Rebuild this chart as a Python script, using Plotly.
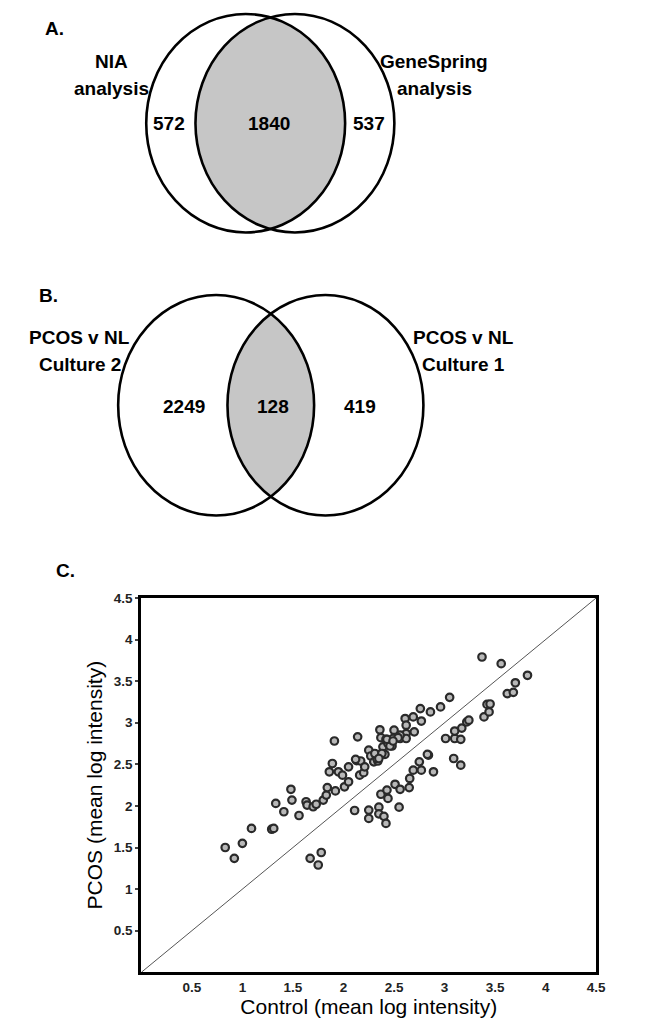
import numpy as np
import plotly.graph_objects as go

W, H = 653, 1019

# ---- Venn counts ----
venn_a_labels = [["NIA", "analysis"], ["GeneSpring", "analysis"]]
venn_a_counts = [572, 1840, 537]
venn_b_labels = [["PCOS v NL", "Culture 2"], ["PCOS v NL", "Culture 1"]]
venn_b_counts = [2249, 128, 419]

# ---- scatter: mean log intensity per gene ----
control_up = [0.83, 0.92, 1.00, 1.09, 1.29, 1.31, 1.33, 1.41, 1.48, 1.49, 1.56, 1.63,
              1.64, 1.70, 1.73, 1.80, 1.83, 1.84, 1.92, 2.01, 2.05, 1.91, 2.14, 1.89,
              1.86, 1.95, 1.99, 2.05, 2.13, 2.17, 2.16, 2.20, 2.21, 2.25, 2.27, 2.30,
              2.34, 2.36, 2.36, 2.37, 2.39, 2.41, 2.42, 2.44, 2.48, 2.50, 2.49, 2.56,
              2.62, 2.62, 2.61, 2.62, 2.69, 2.70, 2.76, 2.77, 2.86, 2.96, 3.05, 3.37,
              3.56, 2.56, 2.33, 2.12, 2.31, 2.38, 2.46, 2.35, 2.43, 2.54, 2.49]
pcos_up = [1.50, 1.37, 1.55, 1.73, 1.72, 1.73, 2.03, 1.93, 2.20, 2.07, 1.885, 2.05,
           2.01, 1.99, 2.02, 2.07, 2.13, 2.22, 2.18, 2.23, 2.29, 2.78, 2.83, 2.51,
           2.41, 2.41, 2.37, 2.47, 2.545, 2.54, 2.37, 2.40, 2.47, 2.67, 2.60, 2.53,
           2.54, 2.62, 2.915, 2.82, 2.71, 2.62, 2.80, 2.75, 2.72, 2.91, 2.81, 2.81,
           2.87, 2.81, 3.05, 2.97, 3.07, 2.89, 3.17, 3.02, 3.13, 3.19, 3.305, 3.79,
           3.71, 2.85, 2.57, 2.56, 2.63, 2.63, 2.72, 2.57, 2.80, 2.82, 2.78]

control_down = [1.67, 1.75, 1.78, 2.11, 2.25, 2.25, 2.35, 2.35, 2.40, 2.42, 2.37, 2.43,
                2.44, 2.55, 2.51, 2.56, 2.65, 2.655, 2.69, 2.77, 2.75, 2.84, 2.89, 2.83,
                3.01, 3.10, 3.10, 3.16, 3.17, 3.22, 3.24, 3.39, 3.44, 3.42, 3.45, 3.62,
                3.68, 3.70, 3.82, 3.09, 3.16]
pcos_down = [1.37, 1.29, 1.44, 1.945, 1.95, 1.85, 1.985, 1.905, 1.875, 1.79, 2.14, 2.19,
             2.09, 1.985, 2.26, 2.20, 2.22, 2.33, 2.43, 2.43, 2.53, 2.61, 2.41, 2.62,
             2.81, 2.81, 2.90, 2.80, 2.935, 3.01, 3.03, 3.07, 3.13, 3.22, 3.225, 3.35,
             3.365, 3.48, 3.57, 2.57, 2.49]

axis_ticks = [0.5, 1, 1.5, 2, 2.5, 3, 3.5, 4, 4.5]
axis_range = [0, 4.5]


def px(x):
    return x / W


def py(y):
    return 1 - y / H


def venn(fig, cx1, cx2, cy, rx, ry):
    # two outlined ellipses with the shared lens filled grey
    xm = (cx1 + cx2) / 2
    yi = ry * np.sqrt(1 - ((xm - cx1) / rx) ** 2)
    ys = np.linspace(-yi, yi, 80)
    right_arc = [(cx1 + rx * np.sqrt(max(0.0, 1 - (v / ry) ** 2)), cy + v) for v in ys]
    left_arc = [(cx2 - rx * np.sqrt(max(0.0, 1 - (v / ry) ** 2)), cy + v) for v in ys[::-1]]
    pts = right_arc + left_arc
    path = "M " + " L ".join(f"{px(a):.5f},{py(b):.5f}" for a, b in pts) + " Z"
    fig.add_shape(type="path", path=path, xref="paper", yref="paper",
                  fillcolor="#c6c6c6", line=dict(width=0), layer="below")
    for cx in (cx1, cx2):
        fig.add_shape(type="circle", xref="paper", yref="paper",
                      x0=px(cx - rx), x1=px(cx + rx), y0=py(cy + ry), y1=py(cy - ry),
                      line=dict(color="black", width=2.6), fillcolor="rgba(0,0,0,0)")


fig = go.Figure()

# diagonal identity line
fig.add_trace(go.Scatter(x=axis_range, y=axis_range, mode="lines",
                         line=dict(color="#555555", width=1), hoverinfo="skip"))
marker = dict(size=7.5, color="#b8b8b8", line=dict(color="#2a2a2a", width=2.2))
fig.add_trace(go.Scatter(x=control_up, y=pcos_up, mode="markers", marker=marker))
fig.add_trace(go.Scatter(x=control_down, y=pcos_down, mode="markers", marker=marker))

FAM = "Liberation Sans, Arial"
bold = dict(family=FAM, size=19, color="black", weight="bold")
tick_font = dict(family=FAM, size=13.5, color="#222222", weight="bold")
title_font = dict(family=FAM, size=21, color="black")

fig.update_layout(
    width=W, height=H, margin=dict(l=0, r=0, t=0, b=0),
    paper_bgcolor="white", plot_bgcolor="white", showlegend=False,
    xaxis=dict(domain=[px(143.5), px(605.5)], range=axis_range,
               tickvals=axis_ticks, ticks="", showgrid=False, zeroline=False,
               showline=True, linecolor="black", linewidth=3, mirror=True,
               tickfont=tick_font,
               title=dict(text="Control (mean log intensity)", standoff=4,
                          font=title_font)),
    yaxis=dict(domain=[py(972), py(595)], range=axis_range,
               tickvals=axis_ticks, ticks="outside", ticklen=3, tickwidth=1.5,
               showgrid=False, zeroline=False,
               showline=True, linecolor="black", linewidth=3, mirror=True,
               tickfont=tick_font,
               title=dict(text="PCOS (mean log intensity)", standoff=6,
                          font=title_font)),
)

# panel A
venn(fig, 249.5, 299.5, 117, 101, 110)
# panel B
venn(fig, 219.5, 330.5, 401, 99.5, 111)


def label(x, y, text, font=bold, xanchor="center"):
    fig.add_annotation(x=px(x), y=py(y), xref="paper", yref="paper", text=text,
                       showarrow=False, font=font, xanchor=xanchor, yanchor="middle",
                       align="center")


def two_lines(x, y, lines, gap=27):
    for i, t in enumerate(lines):
        label(x, y + i * gap, t)


label(44, 22, "A.", xanchor="left")
two_lines(113, 55, venn_a_labels[0])
two_lines(441, 55, venn_a_labels[1])
for xx, n in zip([172, 273, 375], venn_a_counts):
    label(xx, 117, str(n))

label(38, 290, "B.", xanchor="left")
two_lines(81, 333, venn_b_labels[0])
two_lines(471, 333, venn_b_labels[1])
for xx, n in zip([187, 277, 366], venn_b_counts):
    label(xx, 402, str(n))

label(55, 567, "C.", xanchor="left")

fig.write_html("out.html")
